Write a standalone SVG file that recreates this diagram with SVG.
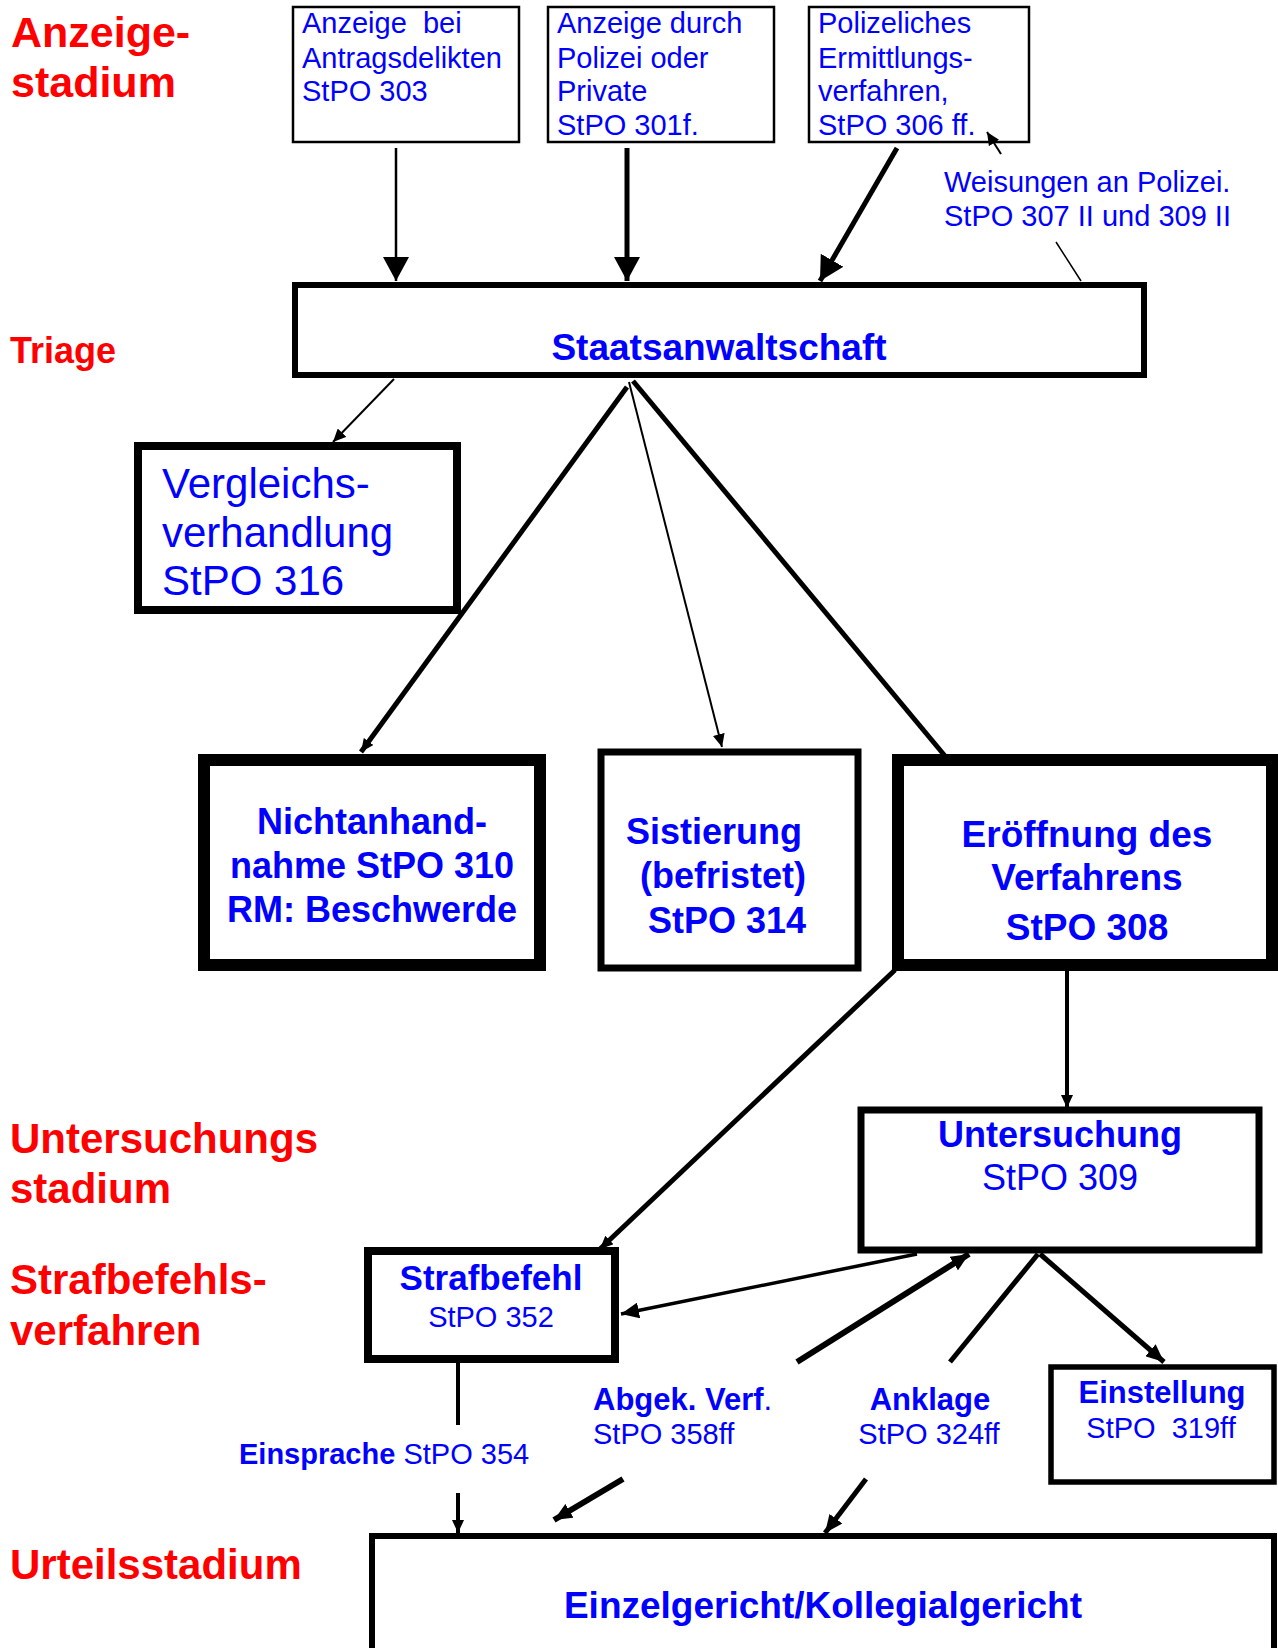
<svg xmlns="http://www.w3.org/2000/svg" width="1278" height="1648" viewBox="0 0 1278 1648">
<style>
.lbl{font-family:"Liberation Sans",Arial,sans-serif;font-weight:bold;fill:#ff0000}
.t{font-family:"Liberation Sans",Arial,sans-serif;fill:#0000ff}
.b{font-weight:bold}
.box{fill:#ffffff;stroke:#000000}
.c{fill:none;stroke:#000000}
.pre{white-space:pre}
</style>
<defs>
<marker id="big" viewBox="0 0 24 26" markerWidth="24" markerHeight="26" refX="24" refY="13" orient="auto" markerUnits="userSpaceOnUse"><path d="M0,0 L24,13 L0,26 z" fill="#000"/></marker>
<marker id="med" viewBox="0 0 18 16" markerWidth="18" markerHeight="16" refX="18" refY="8" orient="auto" markerUnits="userSpaceOnUse"><path d="M0,0 L18,8 L0,16 z" fill="#000"/></marker>
<marker id="sm" viewBox="0 0 13 12" markerWidth="13" markerHeight="12" refX="13" refY="6" orient="auto" markerUnits="userSpaceOnUse"><path d="M0,0 L13,6 L0,12 z" fill="#000"/></marker>
</defs>
<rect width="1278" height="1648" fill="#ffffff"/>

<g id="stages">
<text class="lbl" font-size="43" x="11" y="47">Anzeige-</text>
<text class="lbl" font-size="43" x="11" y="97">stadium</text>
<text class="lbl" font-size="36" x="10" y="363">Triage</text>
<text class="lbl" font-size="42" x="10" y="1153">Untersuchungs</text>
<text class="lbl" font-size="42" x="10" y="1203">stadium</text>
<text class="lbl" font-size="42" x="10" y="1294">Strafbefehls-</text>
<text class="lbl" font-size="42" x="10" y="1345">verfahren</text>
<text class="lbl" font-size="42" x="10" y="1579">Urteilsstadium</text>
</g>

<g id="n-antrag">
<rect class="box" x="293" y="7" width="226" height="135" stroke-width="2.5"/>
<text class="t pre" font-size="29" x="302" y="33">Anzeige  bei</text>
<text class="t" font-size="29" x="302" y="68">Antragsdelikten</text>
<text class="t" font-size="29" x="302" y="101">StPO 303</text>
</g>

<g id="n-polizei">
<rect class="box" x="548" y="7" width="226" height="135" stroke-width="2.5"/>
<text class="t" font-size="29" x="557" y="33">Anzeige durch</text>
<text class="t" font-size="29" x="557" y="68">Polizei oder</text>
<text class="t" font-size="29" x="557" y="101">Private</text>
<text class="t" font-size="29" x="557" y="135">StPO 301f.</text>
</g>

<g id="n-ermittlung">
<rect class="box" x="809" y="7" width="220" height="135" stroke-width="2.5"/>
<text class="t" font-size="29" x="818" y="33">Polizeliches</text>
<text class="t" font-size="29" x="818" y="68">Ermittlungs-</text>
<text class="t" font-size="29" x="818" y="101">verfahren,</text>
<text class="t" font-size="29" x="818" y="135">StPO 306 ff.</text>
</g>

<g id="weisungen">
<text class="t" font-size="29" x="944" y="192">Weisungen an Polizei.</text>
<text class="t" font-size="29" x="944" y="226">StPO 307 II und 309 II</text>
</g>

<g id="n-staatsanwaltschaft">
<rect class="box" x="295" y="285" width="849" height="90" stroke-width="6"/>
<text class="t b" font-size="37" x="719" y="360" text-anchor="middle">Staatsanwaltschaft</text>
</g>

<g id="n-vergleich">
<rect class="box" x="138" y="446" width="319" height="164" stroke-width="8"/>
<text class="t" font-size="42" x="162" y="498">Vergleichs-</text>
<text class="t" font-size="42" x="162" y="547">verhandlung</text>
<text class="t" font-size="42" x="162" y="595">StPO 316</text>
</g>

<g id="n-nichtanhand">
<rect class="box" x="204" y="760" width="336" height="205" stroke-width="12"/>
<text class="t b" font-size="36" x="372" y="834" text-anchor="middle">Nichtanhand-</text>
<text class="t b" font-size="36" x="372" y="878" text-anchor="middle">nahme StPO 310</text>
<text class="t b" font-size="36" x="372" y="922" text-anchor="middle">RM: Beschwerde</text>
</g>

<g id="n-sistierung">
<rect class="box" x="601" y="752" width="257" height="216" stroke-width="7"/>
<text class="t b" font-size="36" x="626" y="844">Sistierung</text>
<text class="t b" font-size="36" x="640" y="888">(befristet)</text>
<text class="t b" font-size="36" x="648" y="933">StPO 314</text>
</g>

<g id="n-eroeffnung">
<rect class="box" x="898" y="760" width="374" height="205" stroke-width="12"/>
<text class="t b" font-size="37" x="1087" y="847" text-anchor="middle">Eröffnung des</text>
<text class="t b" font-size="37" x="1087" y="890" text-anchor="middle">Verfahrens</text>
<text class="t b" font-size="37" x="1087" y="940" text-anchor="middle">StPO 308</text>
</g>

<g id="n-untersuchung">
<rect class="box" x="861" y="1110" width="398" height="140" stroke-width="7"/>
<text class="t b" font-size="36" x="1060" y="1147" text-anchor="middle">Untersuchung</text>
<text class="t" font-size="36" x="1060" y="1190" text-anchor="middle">StPO 309</text>
</g>

<g id="n-strafbefehl">
<rect class="box" x="368" y="1251" width="247" height="108" stroke-width="8"/>
<text class="t b" font-size="35" x="491" y="1290" text-anchor="middle">Strafbefehl</text>
<text class="t" font-size="29" x="491" y="1327" text-anchor="middle">StPO 352</text>
</g>

<g id="l-abgek">
<text class="t" font-size="31" x="593" y="1410"><tspan class="b">Abgek. Verf</tspan>.</text>
<text class="t" font-size="29" x="593" y="1444">StPO 358ff</text>
</g>

<g id="l-anklage">
<text class="t b" font-size="31" x="930" y="1410" text-anchor="middle">Anklage</text>
<text class="t" font-size="29" x="929" y="1444" text-anchor="middle">StPO 324ff</text>
</g>

<g id="l-einsprache">
<text class="t" font-size="29" x="239" y="1464"><tspan class="b">Einsprache</tspan> StPO 354</text>
</g>

<g id="n-einstellung">
<rect class="box" x="1051" y="1367" width="223" height="115" stroke-width="5.5"/>
<text class="t b" font-size="31" x="1162" y="1403" text-anchor="middle">Einstellung</text>
<text class="t pre" font-size="29" x="1161" y="1438" text-anchor="middle">StPO  319ff</text>
</g>

<g id="n-gericht">
<rect class="box" x="372" y="1536" width="902" height="130" stroke-width="6"/>
<text class="t b" font-size="37" x="823" y="1618" text-anchor="middle">Einzelgericht/Kollegialgericht</text>
</g>

<g id="connectors">
<line class="c" x1="396" y1="148" x2="396" y2="281" stroke-width="2.5" marker-end="url(#big)"/>
<line class="c" x1="627" y1="148" x2="627" y2="281" stroke-width="5" marker-end="url(#big)"/>
<line class="c" x1="897" y1="148" x2="820" y2="281" stroke-width="5" marker-end="url(#big)"/>
<line class="c" x1="1001" y1="154" x2="987" y2="132" stroke-width="2" marker-end="url(#sm)"/>
<line class="c" x1="1056" y1="242" x2="1081" y2="281" stroke-width="1.5"/>
<line class="c" x1="394" y1="379" x2="333" y2="442" stroke-width="2" marker-end="url(#sm)"/>
<line class="c" x1="627" y1="387" x2="361" y2="752" stroke-width="5" marker-end="url(#sm)"/>
<line class="c" x1="629" y1="382" x2="722" y2="747" stroke-width="2" marker-end="url(#sm)"/>
<line class="c" x1="633" y1="381" x2="950" y2="762" stroke-width="5"/>
<line class="c" x1="895" y1="970" x2="600" y2="1249" stroke-width="5" marker-end="url(#sm)"/>
<line class="c" x1="1067" y1="970" x2="1067" y2="1108" stroke-width="4" marker-end="url(#sm)"/>
<line class="c" x1="917" y1="1254" x2="621" y2="1314" stroke-width="3.5" marker-end="url(#med)"/>
<line class="c" x1="797" y1="1362" x2="969" y2="1254" stroke-width="6" marker-end="url(#med)"/>
<line class="c" x1="623" y1="1479" x2="554" y2="1520" stroke-width="6" marker-end="url(#med)"/>
<line class="c" x1="1038" y1="1254" x2="950" y2="1362" stroke-width="5"/>
<line class="c" x1="866" y1="1479" x2="825" y2="1533" stroke-width="5" marker-end="url(#med)"/>
<line class="c" x1="1040" y1="1254" x2="1164" y2="1362" stroke-width="5" marker-end="url(#med)"/>
<line class="c" x1="458" y1="1363" x2="458" y2="1425" stroke-width="4"/>
<line class="c" x1="458" y1="1493" x2="458" y2="1533" stroke-width="4" marker-end="url(#sm)"/>
</g>
</svg>
